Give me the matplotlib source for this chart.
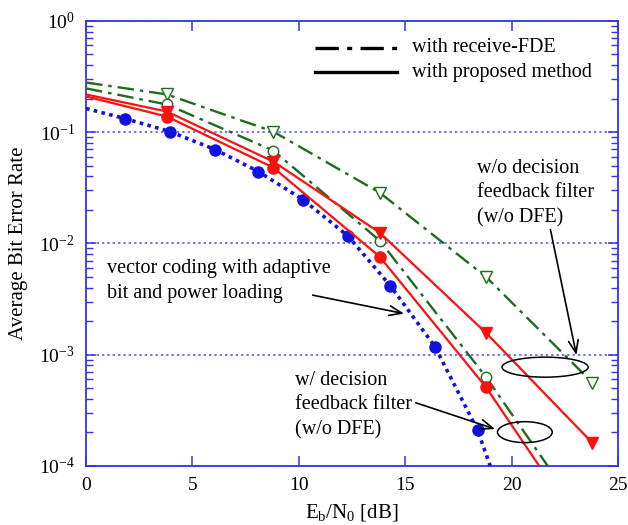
import numpy as np
import matplotlib
matplotlib.use('Agg')
import matplotlib.pyplot as plt
from matplotlib.patches import Ellipse
from matplotlib.lines import Line2D

plt.rcParams['font.family'] = ['Liberation Serif', 'DejaVu Serif']
plt.rcParams['mathtext.fontset'] = 'custom'
plt.rcParams['mathtext.rm'] = 'Liberation Serif'
plt.rcParams['mathtext.it'] = 'Liberation Serif'

# proposed method, w/o DFE (red, filled down-triangles)
prop_nodfe_x = [0, 3.8, 8.8, 13.8, 18.8, 23.8]
prop_nodfe_y = [0.218, 0.153, 0.0544, 0.0125, 0.00157, 1.61e-4]
# proposed method, w/ DFE (red, filled circles)
prop_dfe_x = [0, 3.8, 8.8, 13.8, 18.8, 21.3]
prop_dfe_y = [0.209, 0.138, 0.048, 0.0076, 5.1e-4, 1e-4]
# receive-FDE, w/ DFE (green, open circles)
fde_dfe_x = [0, 3.8, 8.8, 13.8, 18.8, 21.7]
fde_dfe_y = [0.247, 0.177, 0.0683, 0.0106, 6.3e-4, 1e-4]
# receive-FDE, w/o DFE (green, open down-triangles)
fde_nodfe_x = [0, 3.8, 8.8, 13.8, 18.8, 23.8]
fde_nodfe_y = [0.279, 0.218, 0.101, 0.0286, 0.0050, 5.6e-4]
# vector coding with adaptive bit and power loading (blue dotted)
vc_x = [0, 1.84, 3.95, 6.07, 8.1, 10.2, 12.3, 14.3, 16.4, 18.4, 19.0]
vc_y = [0.163, 0.132, 0.101, 0.0697, 0.0442, 0.0247, 0.0117, 0.00417, 0.00118, 2.1e-4, 1e-4]

xticks = [0, 5, 10, 15, 20, 25]

red = '#ff1010'
green = '#1e6b1e'
blue = '#1010e0'
axcol = '#3333ee'
dashdot = (0, (7, 2.5, 1.5, 2.5))
fs = 14.5

fig = plt.figure(figsize=(6.28, 5.25), dpi=100)
ax = fig.add_axes([0.137, 0.1124, 0.847, 0.848])

ax.plot(vc_x, vc_y, color=blue, ls=(0, (1, 1.2)), lw=2.6, marker='o', ms=8,
        markevery=list(range(1, 10)), zorder=3)
ax.plot(fde_nodfe_x, fde_nodfe_y, color=green, ls=dashdot, lw=1.7, marker='v', ms=8,
        mfc='white', mec=green, mew=1.0, markevery=[1, 2, 3, 4, 5], zorder=3)
ax.plot(fde_dfe_x, fde_dfe_y, color=green, ls=dashdot, lw=1.7, marker='o', ms=7.5,
        mfc='white', mec=green, mew=1.0, markevery=[1, 2, 3, 4], zorder=3)
ax.plot(prop_nodfe_x, prop_nodfe_y, color=red, ls='-', lw=1.6, marker='v', ms=8,
        markevery=[1, 2, 3, 4, 5], zorder=4)
ax.plot(prop_dfe_x, prop_dfe_y, color=red, ls='-', lw=1.6, marker='o', ms=8,
        markevery=[1, 2, 3, 4], zorder=4)

ax.set_yscale('log')
ax.set_xlim(0, 25)
ax.set_ylim(1e-4, 1)
ax.set_xticks(xticks)
ax.set_xticklabels([str(t) for t in xticks])
ax.yaxis.grid(True, which='major', color='#4a4af0', ls=(0, (1.5, 2)), lw=1.1)
ax.set_axisbelow(True)

for s in ax.spines.values():
    s.set_color(axcol)
    s.set_linewidth(1.3)
ax.tick_params(which='both', direction='in', color=axcol, top=True, right=True,
               labelsize=14, labelcolor='black', pad=8)
ax.tick_params(which='major', length=7, width=1.1)
ax.tick_params(which='minor', length=5, width=1.0)
ax.tick_params(axis='x', which='minor', top=False, bottom=False)

ax.set_xlabel(r'E$_\mathrm{b}$/N$_\mathrm{0}$ [dB]', fontsize=15, labelpad=6)
ax.set_ylabel('Average Bit Error Rate', fontsize=15, labelpad=8)

# legend drawn by hand
for yy, ls, txt in [(0.94, dashdot, 'with receive-FDE'), (0.884, '-', 'with proposed method')]:
    ax.add_line(Line2D([0.43, 0.585], [yy, yy], transform=ax.transAxes, color='black',
                       ls=ls, lw=2.4))
    ax.text(0.613, yy, txt, transform=ax.transAxes, fontsize=fs, va='center', ha='left')

ax.text(0.735, 0.613, 'w/o decision\nfeedback filter\n(w/o DFE)', transform=ax.transAxes,
        fontsize=fs, ha='left', va='center', linespacing=1.4)
ax.text(0.04, 0.415, 'vector coding with adaptive\nbit and power loading',
        transform=ax.transAxes, fontsize=fs, ha='left', va='center', linespacing=1.4)
ax.text(0.393, 0.137, 'w/ decision\nfeedback filter\n(w/o DFE)', transform=ax.transAxes,
        fontsize=fs, ha='left', va='center', linespacing=1.4)

ax.add_patch(Ellipse((0.863, 0.222), 0.162, 0.045, transform=ax.transAxes,
                     fill=False, ec='black', lw=1.1, zorder=5))
ax.add_patch(Ellipse((0.825, 0.076), 0.103, 0.047, transform=ax.transAxes,
                     fill=False, ec='black', lw=1.1, zorder=5))

arrow = dict(arrowstyle='->,head_length=0.9,head_width=0.35', color='black', lw=1.2)
ax.annotate('', xy=(0.923, 0.243), xytext=(0.872, 0.537), xycoords='axes fraction',
            arrowprops=arrow)
ax.annotate('', xy=(0.603, 0.341), xytext=(0.421, 0.385), xycoords='axes fraction',
            arrowprops=arrow)
ax.annotate('', xy=(0.774, 0.081), xytext=(0.615, 0.144), xycoords='axes fraction',
            arrowprops=arrow)

fig.savefig('out.png', dpi=100)
